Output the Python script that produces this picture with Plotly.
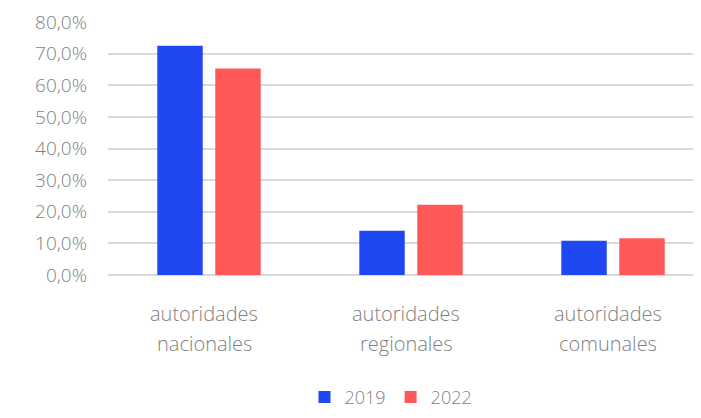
import plotly.graph_objects as go

categories = ["autoridades nacionales", "autoridades regionales", "autoridades comunales"]
label_lines = [["autoridades", "nacionales"], ["autoridades", "regionales"], ["autoridades", "comunales"]]
series_names = ["2019", "2022"]
values_2019 = [0.725, 0.140, 0.108]
values_2022 = [0.653, 0.222, 0.116]
y_ticks = [0.0, 0.1, 0.2, 0.3, 0.4, 0.5, 0.6, 0.7, 0.8]

BLUE = "#1f47f2"
RED = "#ff5858"
GRAY = "#7f7f7f"
FONT = "Open Sans"

PLOT_W = 585
PLOT_H = 253.5
fig = go.Figure()
fig.add_trace(go.Bar(x=categories, y=values_2019, name=series_names[0],
                     marker=dict(color=BLUE, line=dict(width=0)),
                     width=0.225, offset=-0.256))
fig.add_trace(go.Bar(x=categories, y=values_2022, name=series_names[1],
                     marker=dict(color=RED, line=dict(width=0)),
                     width=0.225, offset=0.031))

for i, lines in enumerate(label_lines):
    for j, (txt, py) in enumerate(zip(lines, [314, 344])):
        fig.add_annotation(x=categories[i], xref="x", y=(275.5 - py) / PLOT_H, yref="paper",
                           text=txt, showarrow=False, xanchor="center", yanchor="middle",
                           xshift=-5,
                           font=dict(family=FONT, size=20, color=GRAY, weight=300))

fig.update_layout(
    width=685, height=402,
    margin=dict(l=100, r=0, t=14, b=134.5, autoexpand=False),
    paper_bgcolor="white", plot_bgcolor="white",
    separators=",.",
    showlegend=True,
    legend=dict(orientation="h", x=(383 - 100) / PLOT_W, xanchor="center",
                y=(275.5 - 398) / PLOT_H, yanchor="middle",
                font=dict(family=FONT, size=18, color=GRAY, weight=300),
                itemwidth=30, tracegroupgap=0),
    font=dict(family=FONT, color=GRAY),
)
fig.update_xaxes(range=[-0.5, -0.5 + PLOT_W / 202], showticklabels=False, showgrid=False,
                 showline=False, zeroline=False, fixedrange=True, automargin=False)
fig.update_yaxes(range=[0, 0.8], tickvals=y_ticks, tickformat=".1%",
                 showgrid=True, gridcolor="#d9d9d9", gridwidth=1.5,
                 zeroline=True, zerolinecolor="#d9d9d9", zerolinewidth=1.5,
                 showline=False, ticks="", ticklabelstandoff=20, automargin=False,
                 ticklabeloverflow="allow",
                 tickfont=dict(family=FONT, size=19, color=GRAY, weight=300))

fig.write_html("out.html")
